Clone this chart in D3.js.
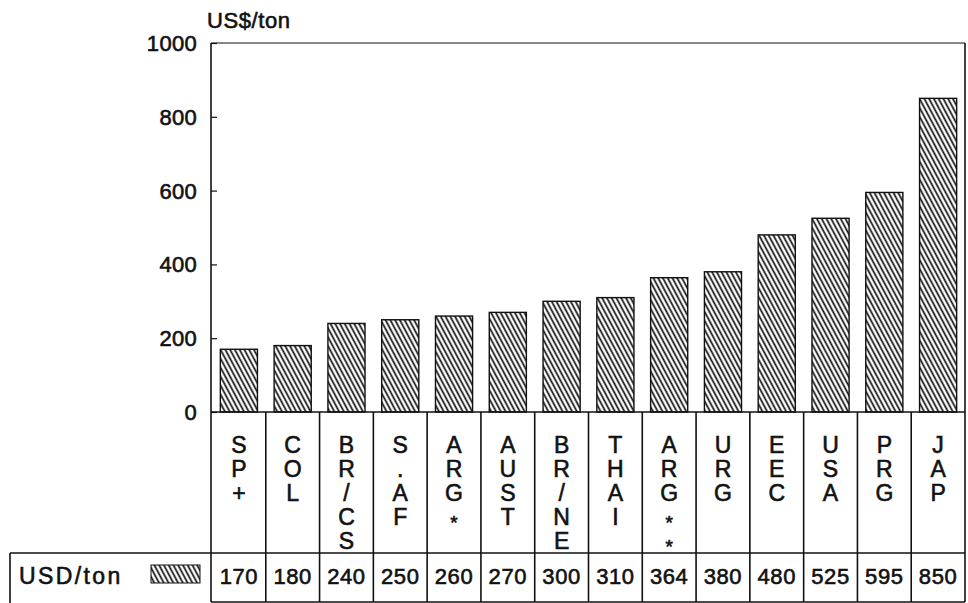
<!DOCTYPE html>
<html>
<head>
<meta charset="utf-8">
<script src="https://cdn.jsdelivr.net/npm/d3@7"></script>
<style>
  body { margin: 0; background: #fff; }
  text { font-family: "Liberation Sans", Arial, sans-serif; fill: #111; stroke: #111; stroke-width: 0.6px; }
</style>
</head>
<body>
<div id="vis-container"></div>
<script>
// data
const categories = ["SP+", "COL", "BR/CS", "S.AF", "ARG*", "AUST", "BR/NE", "THAI", "ARG**", "URG", "EEC", "USA", "PRG", "JAP"];
const values = [170, 180, 240, 250, 260, 270, 300, 310, 364, 380, 480, 525, 595, 850];
const yTicks = [0, 200, 400, 600, 800, 1000];
const seriesName = "USD/ton";
const unitLabel = "US$/ton";

let width = 968, height = 603;
let plot = { left: 212, right: 965, top: 43, bottom: 412 };
let labelRowBottom = 553, tableBottom = 602, legendLeft = 10;

var svg = d3.select("#vis-container").append("svg")
    .attr("width", width)
    .attr("height", height);

// hatch fill
let defs = svg.append("defs");
let pat = defs.append("pattern")
    .attr("id", "hatch")
    .attr("patternUnits", "userSpaceOnUse")
    .attr("width", 4.2).attr("height", 10)
    .attr("patternTransform", "rotate(-28)");
pat.append("line")
    .attr("x1", 1.2).attr("y1", 0).attr("x2", 1.2).attr("y2", 10)
    .attr("stroke", "#111").attr("stroke-width", 1.7);

let x = d3.scaleBand().domain(categories).range([plot.left, plot.right]);
let y = d3.scaleLinear().domain([0, 1000]).range([plot.bottom, plot.top]);

// bars
let barW = x.bandwidth() * 0.69;
svg.append("g").selectAll("rect")
    .data(values)
    .join("rect")
    .attr("x", (d, i) => x(categories[i]) + (x.bandwidth() - barW) / 2)
    .attr("y", d => y(d))
    .attr("width", barW)
    .attr("height", d => y(0) - y(d))
    .attr("fill", "url(#hatch)")
    .attr("stroke", "#111")
    .attr("stroke-width", 1.4);

// y axis
let yAxis = svg.append("g")
    .attr("transform", "translate(" + (plot.left - 1) + ",0)")
    .call(d3.axisRight(y).tickValues(yTicks).tickSize(6).tickFormat(""));
yAxis.select(".domain").remove();
yAxis.selectAll("line").attr("stroke", "#111").attr("stroke-width", 1.2);

svg.append("g").selectAll("text")
    .data(yTicks)
    .join("text")
    .attr("x", 197)
    .attr("y", d => y(d))
    .attr("dy", "0.36em")
    .attr("text-anchor", "end")
    .attr("font-size", 22)
    .attr("letter-spacing", 0.3)
    .text(d => d);

svg.append("text")
    .attr("x", 207).attr("y", 28)
    .attr("font-size", 22)
    .attr("letter-spacing", 0.6)
    .text(unitLabel);

// frame + table lines
let lines = svg.append("g").attr("stroke", "#111").attr("stroke-width", 1.6).attr("fill", "none");
lines.append("line").attr("x1", plot.left - 1).attr("x2", plot.left - 1).attr("y1", plot.top).attr("y2", tableBottom);
lines.append("line").attr("x1", plot.left - 1).attr("x2", plot.right).attr("y1", plot.top).attr("y2", plot.top).attr("stroke-width", 1.1);
lines.append("line").attr("x1", plot.right).attr("x2", plot.right).attr("y1", plot.top).attr("y2", tableBottom);
lines.append("line").attr("x1", plot.left - 1).attr("x2", plot.right).attr("y1", plot.bottom).attr("y2", plot.bottom);
lines.append("line").attr("x1", legendLeft).attr("x2", plot.right).attr("y1", labelRowBottom).attr("y2", labelRowBottom);
lines.append("line").attr("x1", plot.left - 1).attr("x2", plot.right).attr("y1", tableBottom).attr("y2", tableBottom);
lines.append("line").attr("x1", legendLeft).attr("x2", legendLeft).attr("y1", labelRowBottom).attr("y2", height);
lines.selectAll(".sep")
    .data(categories.slice(1))
    .join("line")
    .attr("class", "sep")
    .attr("x1", d => x(d)).attr("x2", d => x(d))
    .attr("y1", plot.bottom).attr("y2", tableBottom);

// vertical category labels (one character per line)
let catG = svg.append("g").selectAll("text")
    .data(categories)
    .join("text")
    .attr("text-anchor", "middle")
    .attr("font-size", 23);
catG.selectAll("tspan")
    .data((d, i) => d.split("").map(ch => ({ ch: ch, cat: categories[i] })))
    .join("tspan")
    .attr("x", d => x(d.cat) + x.bandwidth() / 2)
    .attr("y", (d, j) => 453 + j * 24 + (d.ch == "*" ? 4 : 0))
    .attr("font-size", d => d.ch == "*" ? 19 : null)
    .text(d => d.ch);

// value row
svg.append("g").selectAll("text")
    .data(values)
    .join("text")
    .attr("x", (d, i) => x(categories[i]) + x.bandwidth() / 2)
    .attr("y", 584)
    .attr("text-anchor", "middle")
    .attr("font-size", 22)
    .attr("letter-spacing", 0.6)
    .text(d => d);

// legend cell
svg.append("text")
    .attr("x", 19).attr("y", 584)
    .attr("font-size", 23)
    .attr("letter-spacing", 2.4)
    .text(seriesName);
svg.append("rect")
    .attr("x", 151).attr("y", 565)
    .attr("width", 49).attr("height", 18)
    .attr("fill", "url(#hatch)")
    .attr("stroke", "#111")
    .attr("stroke-width", 1);
</script>
</body>
</html>
